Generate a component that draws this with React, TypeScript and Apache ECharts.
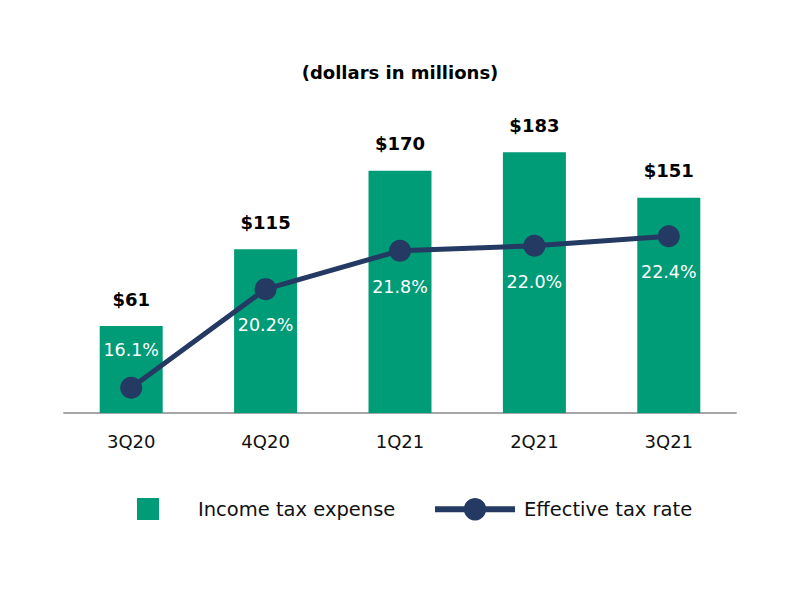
import React, { useEffect, useRef } from "react";
import * as echarts from "echarts";

const categories = ["3Q20", "4Q20", "1Q21", "2Q21", "3Q21"];
const incomeTaxExpense = [61, 115, 170, 183, 151];
const effectiveTaxRate = [16.1, 20.2, 21.8, 22.0, 22.4];
const rateLabelPositions = ["top", "bottom", "bottom", "bottom", "bottom"];

const GREEN = "#009B77";
const NAVY = "#243A63";
const FONT = "'DejaVu Sans', sans-serif";

export default function App() {
  const ref = useRef<HTMLDivElement>(null);
  useEffect(() => {
    if (!ref.current) return;
    const chart = echarts.init(ref.current, undefined, { renderer: "svg" });
    chart.setOption({
      animation: false,
      backgroundColor: "#ffffff",
      textStyle: { fontFamily: FONT },
      title: {
        text: "(dollars in millions)",
        left: "center",
        top: 58,
        textStyle: { fontFamily: FONT, fontSize: 18, fontWeight: "bold", color: "#000" },
      },
      legend: [
        {
          data: ["Income tax expense"],
          left: 132,
          top: 493,
          icon: "rect",
          itemWidth: 22,
          itemHeight: 22,
          itemGap: 0,
          textStyle: { fontFamily: FONT, fontSize: 19.5, color: "#111", padding: [0, 0, 0, 34] },
          selectedMode: false,
        },
        {
          data: ["Effective tax rate"],
          left: 427,
          top: 493,
          itemWidth: 80,
          itemHeight: 28,
          lineStyle: { width: 6 },
          textStyle: { fontFamily: FONT, fontSize: 19.5, color: "#111", padding: [0, 0, 0, 4] },
          selectedMode: false,
        },
      ],
      grid: { left: 64, right: 64, top: 128, bottom: 187 },
      xAxis: {
        type: "category",
        data: categories,
        axisLine: { lineStyle: { color: "#A6A6A6", width: 2 } },
        axisTick: { show: false },
        axisLabel: { fontFamily: FONT, fontSize: 18, color: "#111", margin: 19 },
      },
      yAxis: [
        { type: "value", min: 0, max: 200, show: false, splitLine: { show: false } },
        { type: "value", min: 15.05, max: 26.9, show: false, splitLine: { show: false } },
      ],
      series: [
        {
          name: "Income tax expense",
          type: "bar",
          data: incomeTaxExpense,
          barWidth: 63,
          itemStyle: { color: GREEN },
          label: {
            show: true,
            position: "top",
            distance: 18,
            formatter: (p: any) => "$" + p.value,
            fontFamily: FONT,
            fontSize: 18,
            fontWeight: "bold",
            color: "#000",
          },
        },
        {
          name: "Effective tax rate",
          type: "line",
          yAxisIndex: 1,
          data: effectiveTaxRate.map((v, i) => ({
            value: v,
            label: { position: rateLabelPositions[i], distance: i === 0 ? 18 : 16 },
          })),
          symbol: "circle",
          symbolSize: 22,
          lineStyle: { color: NAVY, width: 5 },
          itemStyle: { color: NAVY },
          label: {
            show: true,
            formatter: (p: any) => p.value.toFixed(1) + "%",
            fontFamily: FONT,
            fontSize: 17.5,
            color: "#ffffff",
          },
        },
      ],
    });
    return () => chart.dispose();
  }, []);
  return (
    <div
      ref={ref}
      style={{ position: "absolute", left: 0, top: 0, width: 800, height: 600 }}
    />
  );
}
